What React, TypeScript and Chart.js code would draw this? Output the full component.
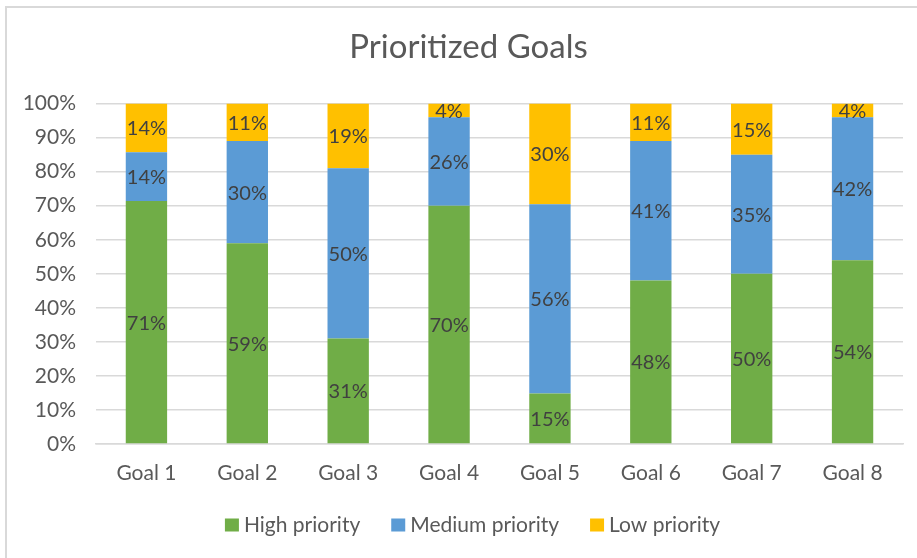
import React, { useEffect, useRef } from "react";
import { Chart, registerables } from "chart.js";

Chart.register(...registerables);

const categories = ["Goal 1", "Goal 2", "Goal 3", "Goal 4", "Goal 5", "Goal 6", "Goal 7", "Goal 8"];
const highPriority = [71.4, 59, 31, 70, 14.8, 48, 50, 54];
const mediumPriority = [14.3, 30, 50, 26, 55.6, 41, 35, 42];
const lowPriority = [14.3, 11, 19, 4, 29.6, 11, 15, 4];
const yTicks = [0, 10, 20, 30, 40, 50, 60, 70, 80, 90, 100];

const FONT = "Lato, 'Open Sans', sans-serif";

const dataLabelPlugin = {
  id: "segmentLabels",
  afterDatasetsDraw(chart: any) {
    const ctx = chart.ctx;
    ctx.save();
    ctx.fillStyle = "#404040";
    ctx.font = `20px ${FONT}`;
    ctx.textAlign = "center";
    ctx.textBaseline = "middle";
    chart.data.datasets.forEach((ds: any, i: number) => {
      const meta = chart.getDatasetMeta(i);
      meta.data.forEach((el: any, j: number) => {
        const v = ds.data[j];
        const cy = (el.y + el.base) / 2 + 1;
        ctx.fillText(`${Math.round(v)}%`, el.x, cy);
      });
    });
    ctx.restore();
  },
};

const shiftPlugin = {
  id: "shiftTitle",
  afterLayout(chart: any) {
    const t = chart.titleBlock;
    if (t) {
      t.left += 7;
      t.right += 7;
    }
  },
};

const legendPlugin = {
  id: "customLegend",
  afterDraw(chart: any) {
    const ctx = chart.ctx;
    ctx.save();
    ctx.font = `21px ${FONT}`;
    ctx.textBaseline = "middle";
    ctx.textAlign = "left";
    const boxW = 14;
    const boxH = 13;
    const gap = 5;
    const itemGap = 31;
    const items = chart.data.datasets.map((ds: any) => ({
      label: ds.label,
      color: ds.backgroundColor,
      w: ctx.measureText(ds.label).width,
    }));
    const total =
      items.reduce((s: number, it: any) => s + boxW + gap + it.w, 0) + itemGap * (items.length - 1);
    let x = chart.width / 2 + 14 - total / 2;
    const cy = 525;
    items.forEach((it: any) => {
      ctx.fillStyle = it.color;
      ctx.fillRect(x, cy - boxH / 2, boxW, boxH);
      x += boxW + gap;
      ctx.fillStyle = "#595959";
      ctx.fillText(it.label, x, cy);
      x += it.w + itemGap;
    });
    ctx.restore();
  },
};

export default function App() {
  const ref = useRef<HTMLCanvasElement>(null);
  useEffect(() => {
    if (!ref.current) return;
    const chart = new Chart(ref.current, {
      type: "bar",
      data: {
        labels: categories,
        datasets: [
          { label: "High priority", data: highPriority, backgroundColor: "#70AD47" },
          { label: "Medium priority", data: mediumPriority, backgroundColor: "#5B9BD5" },
          { label: "Low priority", data: lowPriority, backgroundColor: "#FFC000" },
        ],
      },
      options: {
        animation: false,
        responsive: false,
        maintainAspectRatio: false,
        layout: { padding: { left: 20, right: 14, top: 0, bottom: 72 } },
        datasets: { bar: { barPercentage: 0.41, categoryPercentage: 1 } } as any,
        plugins: {
          title: {
            display: true,
            text: "Prioritized Goals",
            color: "#595959",
            font: { family: FONT, size: 33, weight: "normal" },
            padding: { top: 28, bottom: 36 },
          },
          legend: { display: false },
          tooltip: { enabled: false },
        },
        scales: {
          x: {
            stacked: true,
            grid: { display: false, drawTicks: false },
            border: { display: true, color: "#d9d9d9", width: 1.5 },
            ticks: { color: "#595959", font: { family: FONT, size: 21 }, padding: 17 },
            afterFit(scale: any) {
              scale.height = 42;
            },
          },
          y: {
            stacked: true,
            min: 0,
            max: 100,
            afterBuildTicks(scale: any) {
              scale.ticks = yTicks.map((v) => ({ value: v }));
            },
            grid: { color: "#d9d9d9", lineWidth: 1.5, drawTicks: false },
            border: { display: false },
            ticks: {
              color: "#595959",
              font: { family: FONT, size: 21 },
              padding: 20,
              callback: (v: any) => `${v}%`,
            },
            afterFit(scale: any) {
              scale.width = 76;
            },
          },
        },
      },
      plugins: [dataLabelPlugin, shiftPlugin, legendPlugin],
    });
    return () => chart.destroy();
  }, []);

  return (
    <div style={{ position: "fixed", left: 0, top: 0, width: 917, height: 558, background: "#fff" }}>
      <div
        style={{
          position: "absolute",
          left: 5,
          top: 6,
          width: 930,
          height: 570,
          borderTop: "2px solid #d9d9d9",
          borderLeft: "2px solid #d9d9d9",
        }}
      />
      <canvas ref={ref} width={917} height={558} style={{ position: "absolute", left: 0, top: 0 }} />
    </div>
  );
}
